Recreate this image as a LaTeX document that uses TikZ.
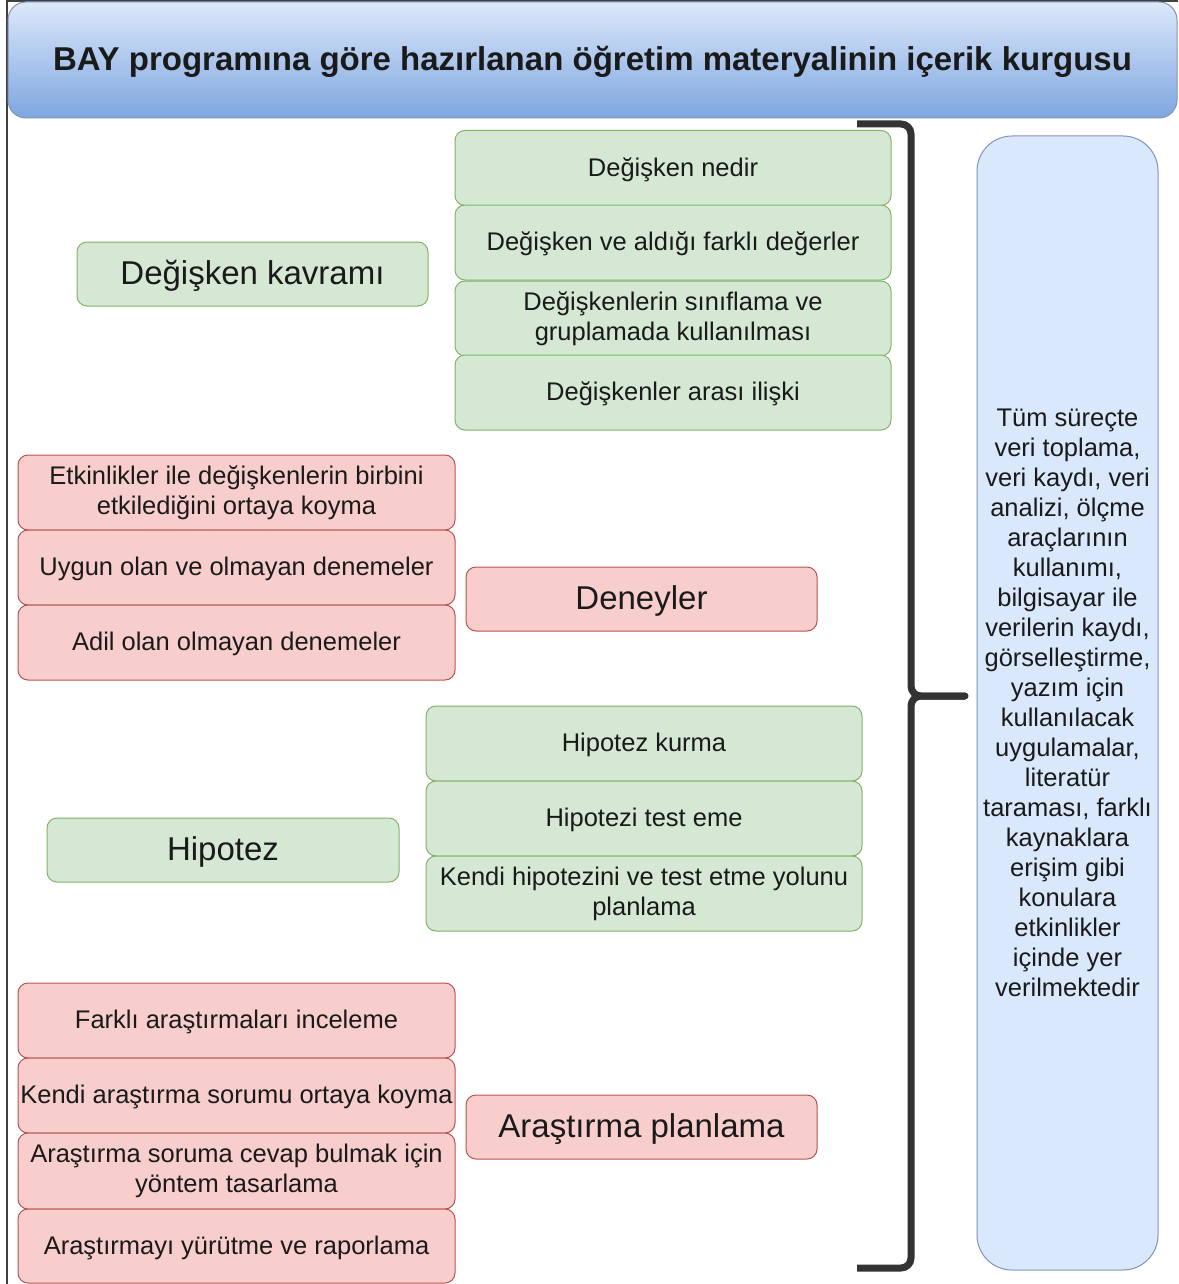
\documentclass[tikz,border=0pt]{standalone}
\usepackage{fontspec}
\setmainfont{Liberation Sans}
\definecolor{txt}{HTML}{1A1A1A}
\definecolor{gfill}{HTML}{D5E8D4}
\definecolor{gline}{HTML}{82B366}
\definecolor{rfill}{HTML}{F8CECC}
\definecolor{rline}{HTML}{B85450}
\definecolor{bfill}{HTML}{DAE8FC}
\definecolor{bline}{HTML}{7E95BA}
\definecolor{btop}{HTML}{DCE8FA}
\definecolor{bbot}{HTML}{7EA6E0}
\definecolor{brace}{HTML}{333333}
\begin{document}
\begin{tikzpicture}[x=1pt,y=-1pt,
  box/.style={rounded corners=10pt, inner sep=0pt, line width=1pt, text=txt,
    font=\fontsize{25.5}{30}\selectfont},
  oneline/.style={text height=22.4pt, text depth=6.1pt},
  bigline/.style={text height=29pt, text depth=7.9pt},
  twolines/.style={align=center},
  gitem/.style={box, draw=gline, fill=gfill, minimum width=436pt, minimum height=75pt},
  ritem/.style={box, draw=rline, fill=rfill, minimum width=437pt, minimum height=75pt},
  ghead/.style={box, bigline, draw=gline, fill=gfill, minimum width=351pt, minimum height=64pt,
    font=\fontsize{33}{38}\selectfont},
  rhead/.style={box, bigline, draw=rline, fill=rfill, minimum width=351pt, minimum height=64pt,
    font=\fontsize{33}{38}\selectfont},
  bracket/.style={draw=brace, line width=7pt, rounded corners=10pt}]
\useasboundingbox (0,0) rectangle (1178,1284);
\fill[white] (0,0) rectangle (1178,1284);

% outer frame
\draw[line width=1.5pt, black!75] (7,1284) -- (7,1) -- (1178,1);

% title bar
\node[rounded corners=18pt, draw=bline, line width=1pt, top color=btop, bottom color=bbot,
  minimum width=1169pt, minimum height=116pt, inner sep=0pt, text=txt, bigline,
  font=\fontsize{33}{38}\selectfont\bfseries] (title) at (592.5,60)
  {BAY programına göre hazırlanan öğretim materyalinin içerik kurgusu};

% variable concept
\node[gitem, oneline] (d1) at (673,168) {Değişken nedir};
\node[gitem, oneline] (d2) at (673,242.5) {Değişken ve aldığı farklı değerler};
\node[gitem, twolines] (d3) at (673,318.5) {Değişkenlerin sınıflama ve\\gruplamada kullanılması};
\node[gitem, oneline] (d4) at (673,392.5) {Değişkenler arası ilişki};
\node[ghead] (dk) at (252.5,274) {Değişken kavramı};

% experiments
\node[ritem, twolines] (e1) at (236.5,492.5) {Etkinlikler ile değişkenlerin birbini\\etkilediğini ortaya koyma};
\node[ritem, oneline] (e2) at (236.5,567.5) {Uygun olan ve olmayan denemeler};
\node[ritem, oneline] (e3) at (236.5,642.5) {Adil olan olmayan denemeler};
\node[rhead] (dn) at (641.5,599) {Deneyler};

% hypothesis
\node[gitem, oneline] (h1) at (644,743.5) {Hipotez kurma};
\node[gitem, oneline] (h2) at (644,818.5) {Hipotezi test eme};
\node[gitem, twolines] (h3) at (644,893.5) {Kendi hipotezini ve test etme yolunu\\planlama};
\node[ghead, minimum width=352pt] (hp) at (223,850) {Hipotez};

% research planning
\node[ritem, oneline] (a1) at (236.5,1020.5) {Farklı araştırmaları inceleme};
\node[ritem, oneline] (a2) at (236.5,1095.5) {Kendi araştırma sorumu ortaya koyma};
\node[ritem, twolines, minimum height=76pt] (a3) at (236.5,1171) {Araştırma soruma cevap bulmak için\\yöntem tasarlama};
\node[ritem, oneline, minimum height=74pt] (a4) at (236.5,1246) {Araştırmayı yürütme ve raporlama};
\node[rhead] (ap) at (641.5,1127) {Araştırma planlama};

% side note
\node[box, twolines, rounded corners=35pt, draw=bline, fill=bfill, minimum width=181pt, minimum height=1134pt]
  (note) at (1067.5,703) {Tüm süreçte\\veri toplama,\\veri kaydı, veri\\analizi, ölçme\\araçlarının\\kullanımı,\\bilgisayar ile\\verilerin kaydı,\\görselleştirme,\\yazım için\\kullanılacak\\uygulamalar,\\literatür\\taraması, farklı\\kaynaklara\\erişim gibi\\konulara\\etkinlikler\\içinde yer\\verilmektedir};

% curly bracket gathering all topics
\coordinate (bTop) at (857,124);
\coordinate (bBot) at (857,1268);
\coordinate (bMid) at (911,696);
\coordinate (bTip) at (965,696);
\draw[bracket] (bTop) -| (bMid) -- (bTip);
\draw[bracket] (bBot) -| (bMid) -- (bTip);
\fill[brace] (bTip) circle (3.5pt);
\end{tikzpicture}
\end{document}
